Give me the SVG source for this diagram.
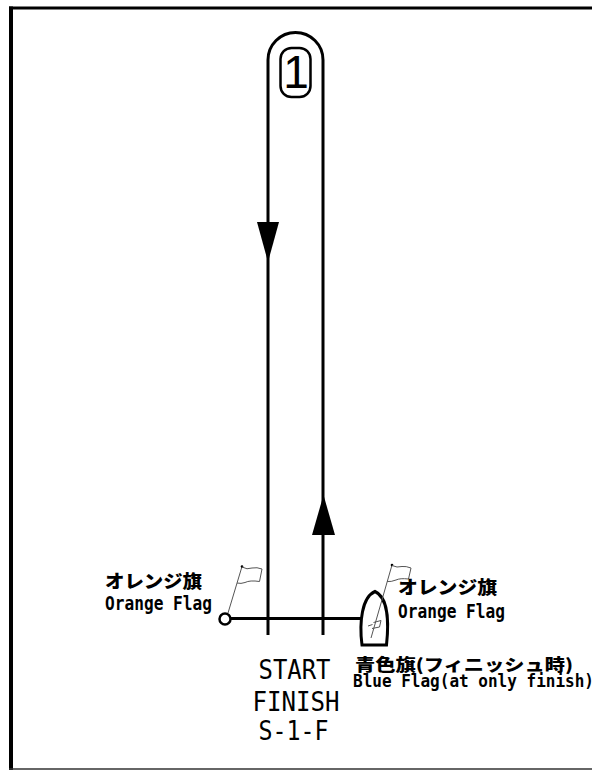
<svg xmlns="http://www.w3.org/2000/svg" width="592" height="770" viewBox="0 0 592 770">
<style>
.ln{stroke:#000;stroke-width:3;fill:none}
.arr{fill:#000;stroke:none}
.fl{stroke:#555;stroke-width:1;fill:none}
.jp{font-family:"Noto Sans CJK JP","Noto Sans",sans-serif;font-weight:900;font-size:18px;fill:#000}
.en{font-family:"DejaVu Sans Mono","Liberation Mono",monospace;font-weight:bold;font-size:19.5px;fill:#000}
.big{font-family:"DejaVu Sans Mono","Liberation Mono",monospace;font-size:26px;fill:#000}
.num{font-family:"Liberation Sans",Arial,sans-serif;font-size:46px;fill:#000}
</style>
<rect width="592" height="770" fill="#fff"/>
<g id="frame">
<line x1="9" y1="8" x2="592" y2="8" stroke="#000" stroke-width="3"/>
<line x1="11" y1="6.5" x2="11" y2="770" stroke="#000" stroke-width="4"/>
<line x1="9" y1="769" x2="592" y2="769" stroke="#333" stroke-width="1.5"/>
</g>
<g id="connectors">
<path class="ln" d="M268,635 V60 A27.5,27.5 0 0 1 323,60 V635"/>
<line class="ln" x1="231" y1="618.5" x2="361" y2="618.5"/>
<polygon class="arr" points="257,222 279,222 268,262"/>
<polygon class="arr" points="312,535 335,535 323.5,495"/>
</g>
<g id="mark-1">
<rect x="280.5" y="48" width="30" height="49" rx="11" ry="11" fill="#fff" stroke="#000" stroke-width="2.5"/>
<text class="num" x="296" y="88" text-anchor="middle">1</text>
</g>
<g id="left-flag">
<circle cx="225" cy="619" r="5.5" fill="#fff" stroke="#000" stroke-width="2.5"/>
<line class="fl" x1="228" y1="613" x2="242" y2="566.5"/>
<circle cx="242" cy="566.5" r="1.3" fill="#000"/>
<path class="fl" d="M242,567 Q247,570 252,568 Q257,567 262,569 L259.5,581.5 Q250,580 245,582.5 Q241,584 237,583"/>
<text class="jp" x="105" y="588" textLength="97" lengthAdjust="spacingAndGlyphs">オレンジ旗</text>
<text class="en" x="105" y="610" textLength="107" lengthAdjust="spacingAndGlyphs">Orange Flag</text>
</g>
<g id="right-boat">
<path class="ln" d="M362,645 L386.5,645 C389,622 388,597 375,591.5 C362,597 359,622 362,645 Z"/>
<line class="fl" x1="371" y1="638" x2="392" y2="565"/>
<circle cx="392" cy="565" r="1.3" fill="#000"/>
<path class="fl" d="M392,565.5 Q397,568 402,566.5 Q406,566 411,568 L408.5,579 Q400,578 396,580 Q391,582 387,581.5"/>
<path class="fl" d="M373.5,622.5 L381,620.5 L379.5,627 L372,628.5 M368,626 L372.5,624.5"/>
<text class="jp" x="398" y="594" textLength="99" lengthAdjust="spacingAndGlyphs">オレンジ旗</text>
<text class="en" x="398" y="618" textLength="107" lengthAdjust="spacingAndGlyphs">Orange Flag</text>
<text class="jp" x="355" y="671" textLength="218" lengthAdjust="spacingAndGlyphs" style="font-size:16.5px">青色旗(フィニッシュ時)</text>
<text class="en" x="353" y="687" textLength="241" lengthAdjust="spacingAndGlyphs" style="font-size:18px">Blue Flag(at only finish)</text>
</g>
<g id="start-finish">
<text class="big" x="294.5" y="679" text-anchor="middle" textLength="72" lengthAdjust="spacingAndGlyphs">START</text>
<text class="big" x="296" y="711" text-anchor="middle" textLength="87" lengthAdjust="spacingAndGlyphs">FINISH</text>
<text class="big" x="293.5" y="740" text-anchor="middle" textLength="70" lengthAdjust="spacingAndGlyphs">S-1-F</text>
</g>
</svg>
